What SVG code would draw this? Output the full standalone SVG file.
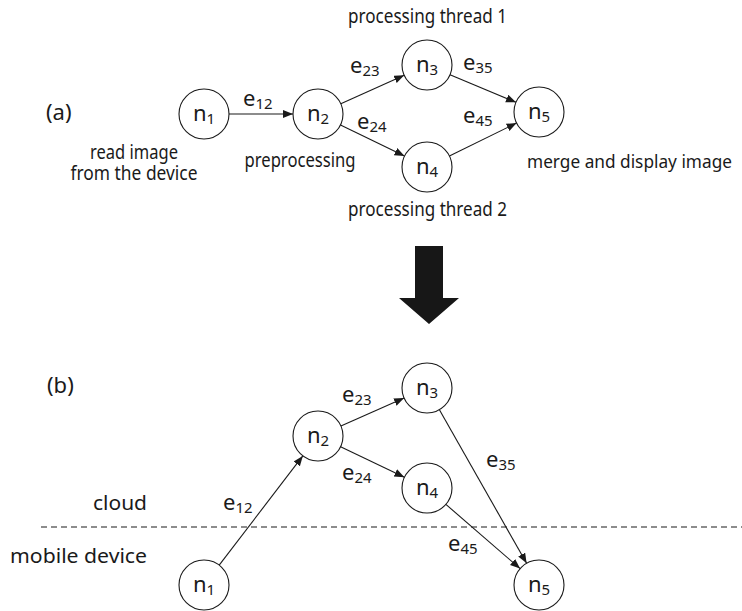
<svg xmlns="http://www.w3.org/2000/svg" width="742" height="611" viewBox="0 0 742 611">
<defs>
<style>
text{font-family:"Noto Sans","Open Sans",sans-serif;font-size:19px;fill:#1a1a1a}
.lb{font-size:22px}
.sub{font-size:15px}
.mid{text-anchor:middle}
circle{fill:#fff;stroke:#1a1a1a;stroke-width:1.1}
.e{stroke:#1a1a1a;stroke-width:1.1;fill:none;marker-end:url(#ah)}
</style>
<marker id="ah" markerUnits="userSpaceOnUse" markerWidth="11" markerHeight="9" refX="10" refY="4" orient="auto">
<path d="M0,0 L10,4 L0,8 z" fill="#1a1a1a"/>
</marker>
</defs>
<rect width="742" height="611" fill="#fff"/>

<g id="connectors">
<line class="e" x1="229" y1="114" x2="293" y2="114"/>
<line class="e" x1="340.8" y1="103.8" x2="404.2" y2="75.3"/>
<line class="e" x1="340.5" y1="124.9" x2="404.5" y2="156.1"/>
<line class="e" x1="450" y1="74.7" x2="516" y2="102.3"/>
<line class="e" x1="449.4" y1="156" x2="516.6" y2="123"/>
<line class="e" x1="219.2" y1="565.1" x2="302.8" y2="455.9"/>
<line class="e" x1="340.9" y1="425.9" x2="404.1" y2="398.1"/>
<line class="e" x1="340.6" y1="446.8" x2="404.4" y2="477.2"/>
<line class="e" x1="439.4" y1="409.7" x2="526.6" y2="563.3"/>
<line class="e" x1="445.9" y1="504.4" x2="520.1" y2="568.6"/>
</g>

<g id="labels-a">
<text class="lb" x="46" y="120">(a)</text>
<text class="lb" x="243" y="106">e<tspan class="sub" dy="3">12</tspan></text>
<text class="lb" x="350" y="73">e<tspan class="sub" dy="3">23</tspan></text>
<text class="lb" x="357" y="129">e<tspan class="sub" dy="3">24</tspan></text>
<text class="lb" x="463" y="70">e<tspan class="sub" dy="3">35</tspan></text>
<text class="lb" x="463" y="123">e<tspan class="sub" dy="3">45</tspan></text>
<text class="mid" x="134" y="159" textLength="88" lengthAdjust="spacingAndGlyphs">read image</text>
<text class="mid" x="134" y="180" textLength="127" lengthAdjust="spacingAndGlyphs">from the device</text>
<text class="mid" x="300" y="167" textLength="111" lengthAdjust="spacingAndGlyphs">preprocessing</text>
<text class="mid" x="427.5" y="23" textLength="159" lengthAdjust="spacingAndGlyphs">processing thread 1</text>
<text class="mid" x="427.5" y="216" textLength="159" lengthAdjust="spacingAndGlyphs">processing thread 2</text>
<text x="527" y="168" style="font-size:18px" textLength="205" lengthAdjust="spacingAndGlyphs">merge and display image</text>
</g>

<g id="a-n1"><circle cx="204" cy="114" r="25"/><text class="lb mid" x="204" y="121">n<tspan class="sub" dy="3">1</tspan></text></g>
<g id="a-n2"><circle cx="318" cy="114" r="25"/><text class="lb mid" x="318" y="121">n<tspan class="sub" dy="3">2</tspan></text></g>
<g id="a-n3"><circle cx="427" cy="65" r="25"/><text class="lb mid" x="427" y="72">n<tspan class="sub" dy="3">3</tspan></text></g>
<g id="a-n4"><circle cx="427" cy="167" r="25"/><text class="lb mid" x="427" y="174">n<tspan class="sub" dy="3">4</tspan></text></g>
<g id="a-n5"><circle cx="539" cy="112" r="25"/><text class="lb mid" x="539" y="119">n<tspan class="sub" dy="3">5</tspan></text></g>

<g id="big-arrow">
<path d="M415,246 H443 V298 H459 L429,324 L399,298 H415 Z" fill="#171717"/>
</g>

<g id="labels-b">
<text class="lb" x="47" y="393">(b)</text>
<text x="93" y="510" textLength="54" lengthAdjust="spacingAndGlyphs">cloud</text>
<text x="10" y="563" textLength="137" lengthAdjust="spacingAndGlyphs">mobile device</text>
<line x1="41" y1="527" x2="742" y2="527" stroke="#1a1a1a" stroke-width="1" stroke-dasharray="6,4"/>
<text class="lb" x="223" y="510">e<tspan class="sub" dy="3">12</tspan></text>
<text class="lb" x="342" y="402">e<tspan class="sub" dy="3">23</tspan></text>
<text class="lb" x="342" y="480">e<tspan class="sub" dy="3">24</tspan></text>
<text class="lb" x="486" y="467">e<tspan class="sub" dy="3">35</tspan></text>
<text class="lb" x="448" y="551">e<tspan class="sub" dy="3">45</tspan></text>
</g>

<g id="b-n1"><circle cx="204" cy="585" r="25"/><text class="lb mid" x="204" y="592">n<tspan class="sub" dy="3">1</tspan></text></g>
<g id="b-n2"><circle cx="318" cy="436" r="25"/><text class="lb mid" x="318" y="443">n<tspan class="sub" dy="3">2</tspan></text></g>
<g id="b-n3"><circle cx="427" cy="388" r="25"/><text class="lb mid" x="427" y="395">n<tspan class="sub" dy="3">3</tspan></text></g>
<g id="b-n4"><circle cx="427" cy="488" r="25"/><text class="lb mid" x="427" y="495">n<tspan class="sub" dy="3">4</tspan></text></g>
<g id="b-n5"><circle cx="539" cy="585" r="25"/><text class="lb mid" x="539" y="592">n<tspan class="sub" dy="3">5</tspan></text></g>
</svg>
